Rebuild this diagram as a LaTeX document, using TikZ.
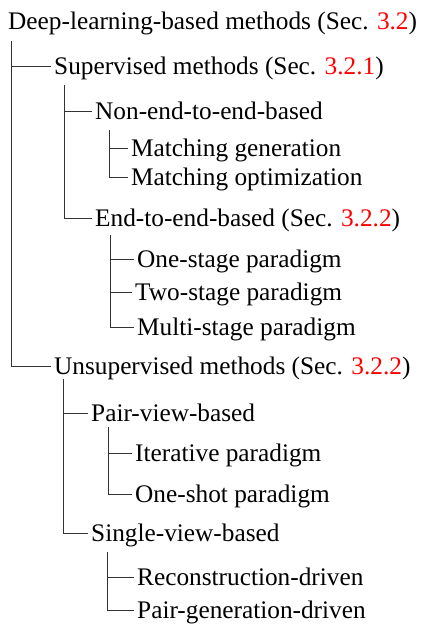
\documentclass[tikz,border=0pt]{standalone}
\usepackage{fontspec}
\setmainfont{Liberation Serif}
\newfontfamily\lbfont{Liberation Serif}
\begin{document}
\begin{tikzpicture}[x=1pt,y=-1pt,
  lbl/.style={anchor=base west, inner xsep=3pt, inner ysep=0pt, text height=19pt, text depth=3pt, font=\lbfont\fontsize{25.3}{30}\selectfont},
  br/.style={draw=black!80, line width=1pt}]
\useasboundingbox (0,0) rectangle (423,624);
\newcommand{\secref}[1]{\textcolor{red}{#1}}
\node[lbl] (root) at (5,29.3) {Deep-learning-based methods (Sec. \secref{3.2})};
\node[lbl] (sup) at (51,74) {Supervised methods (Sec. \secref{3.2.1})};
\node[lbl] (non) at (92,119.3) {Non-end-to-end-based};
\node[lbl] (mg) at (128,156.7) {Matching generation};
\node[lbl] (mo) at (128,185) {Matching optimization};
\node[lbl] (e2e) at (92,226.7) {End-to-end-based (Sec. \secref{3.2.2})};
\node[lbl] (one) at (134,267.7) {One-stage paradigm};
\node[lbl] (two) at (132,300) {Two-stage paradigm};
\node[lbl] (multi) at (134,335) {Multi-stage paradigm};
\node[lbl] (uns) at (51,374) {Unsupervised methods (Sec. \secref{3.2.2})};
\node[lbl] (pv) at (88,421) {Pair-view-based};
\node[lbl] (it) at (132,461.7) {Iterative paradigm};
\node[lbl] (os) at (132,502.7) {One-shot paradigm};
\node[lbl] (sv) at (88,541.7) {Single-view-based};
\node[lbl] (rd) at (134,585) {Reconstruction-driven};
\node[lbl] (pg) at (134,618) {Pair-generation-driven};
\coordinate (v1) at (11,41);
\coordinate (v2) at (64,85);
\coordinate (v3) at (109,130);
\coordinate (v4) at (110,235);
\coordinate (v5) at (63,379);
\coordinate (v6) at (108,427);
\coordinate (v7) at (107,552);
\draw[br] (v1) |- (sup.west);
\draw[br] (v1) |- (uns.west);
\draw[br] (v2) |- (non.west);
\draw[br] (v2) |- (e2e.west);
\draw[br] (v3) |- (mg.west);
\draw[br] (v3) |- (mo.west);
\draw[br] (v4) |- (one.west);
\draw[br] (v4) |- (two.west);
\draw[br] (v4) |- (multi.west);
\draw[br] (v5) |- (pv.west);
\draw[br] (v5) |- (sv.west);
\draw[br] (v6) |- (it.west);
\draw[br] (v6) |- (os.west);
\draw[br] (v7) |- (rd.west);
\draw[br] (v7) |- (pg.west);
\end{tikzpicture}
\end{document}
